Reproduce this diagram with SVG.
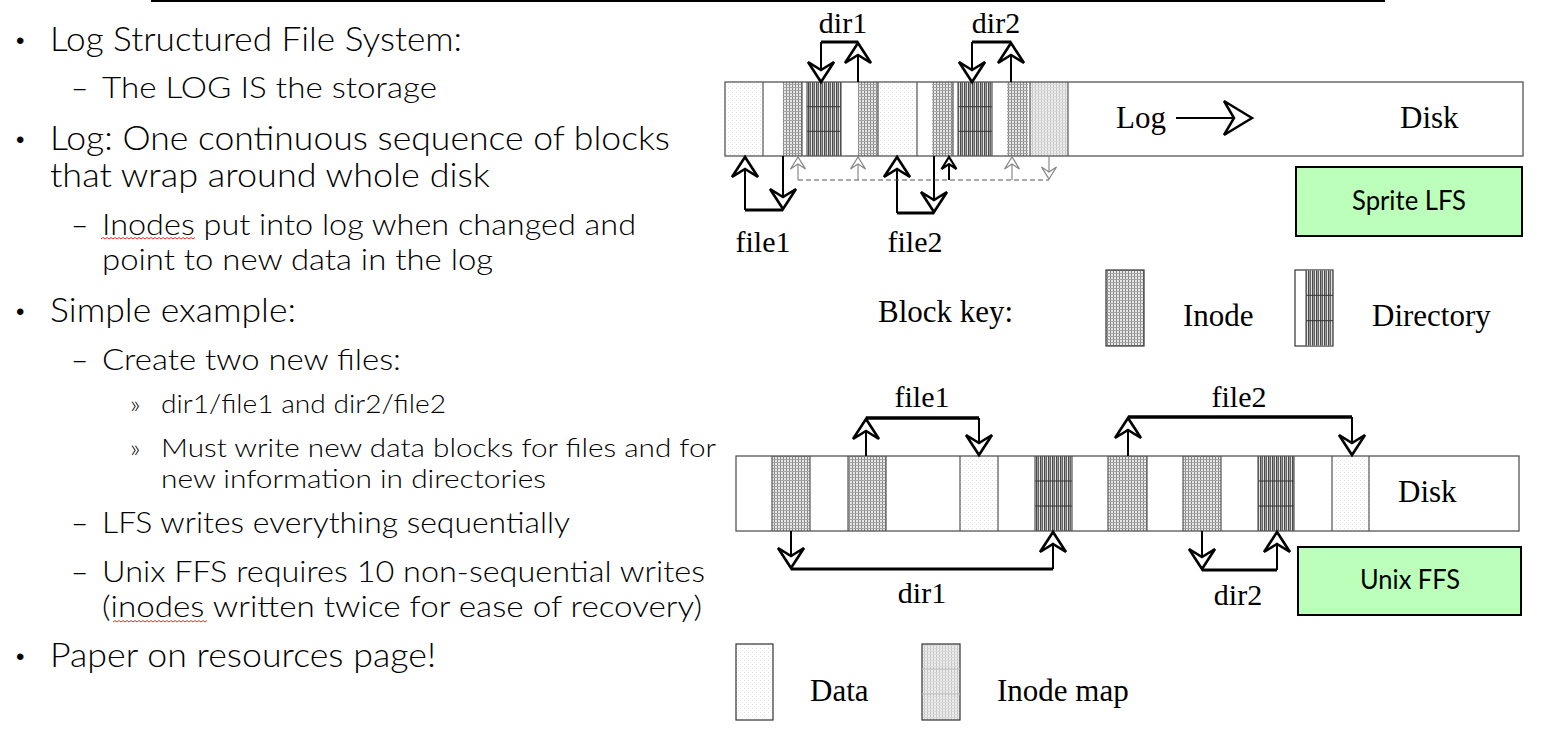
<svg xmlns="http://www.w3.org/2000/svg" width="1541" height="735" viewBox="0 0 1541 735">
<style>
.t1{font-family:Lato,"Liberation Sans",sans-serif;font-size:34px;font-weight:300;fill:#000}
.t2{font-family:Lato,"Liberation Sans",sans-serif;font-size:30px;font-weight:300;fill:#000}
.t3{font-family:Lato,"Liberation Sans",sans-serif;font-size:26px;font-weight:300;fill:#000}
.bu{font-family:"Liberation Sans",sans-serif;font-size:24px;fill:#000}
.lab{font-family:"Liberation Serif","Times New Roman",serif;font-size:31px;fill:#000}
.sl{font-family:"Liberation Serif","Times New Roman",serif;font-size:30px;fill:#000;text-anchor:middle}
.box{font-family:Lato,"Liberation Sans",sans-serif;font-size:27px;fill:#000;text-anchor:middle}
.disk{fill:#fff;stroke:none}
.outline{fill:none;stroke:#555;stroke-width:1.3}
.sep{stroke:#555;stroke-width:1.2}
.dl{stroke:#333;stroke-width:1}
.il{stroke:#bbb;stroke-width:1}
.sh{fill:none;stroke:#000;stroke-width:2}
.hz{fill:none;stroke:#000;stroke-width:3}
.hz4{fill:none;stroke:#000;stroke-width:3.5}
.gr{fill:none;stroke:#888;stroke-width:1.2}
.dash{fill:none;stroke:#555;stroke-width:1.2;stroke-dasharray:5 3}
.green{fill:#bbffbb;stroke:#000;stroke-width:2}
.sq{fill:none;stroke:#e03030;stroke-width:1}
</style>
<defs>
<pattern id="pInode" width="3" height="3" patternUnits="userSpaceOnUse">
<rect width="3" height="3" fill="#e8e8e8"/>
<rect width="1" height="3" fill="#888"/>
<rect width="3" height="1" fill="#a4a4a4"/>
</pattern>
<pattern id="pDir" width="4" height="4" patternUnits="userSpaceOnUse">
<rect width="4" height="4" fill="#9a9a9a"/>
<rect width="1" height="4" fill="#4a4a4a"/>
<rect x="2" width="1" height="4" fill="#666"/>
<rect x="3" width="1" height="4" fill="#e4e4e4"/>
</pattern>
<pattern id="pData" width="4" height="4" patternUnits="userSpaceOnUse">
<rect width="4" height="4" fill="#fff"/>
<rect width="1" height="1" fill="#e2e2e2"/>
<rect x="2" y="2" width="1" height="1" fill="#ececec"/>
</pattern>
<pattern id="pMap" width="3" height="3" patternUnits="userSpaceOnUse">
<rect width="3" height="3" fill="#ececec"/>
<rect width="1" height="3" fill="#c4c4c4"/>
<rect width="3" height="1" fill="#dadada"/>
</pattern>
<marker id="big" viewBox="0 0 28 30" markerWidth="28" markerHeight="30" refX="23" refY="15" orient="auto" markerUnits="userSpaceOnUse" overflow="visible">
<path d="M23,15 L3,2 L11,15 L3,28 Z" fill="#fff" stroke="#000" stroke-width="2.6" stroke-linejoin="miter"/>
</marker>
<marker id="smallg" viewBox="0 0 16 18" markerWidth="16" markerHeight="18" refX="14" refY="9" orient="auto" markerUnits="userSpaceOnUse" overflow="visible">
<path d="M14,9 L2,1.5 L7,9 L2,16.5 Z" fill="#fff" stroke="#888" stroke-width="1.3"/>
</marker>
<marker id="smallb" viewBox="0 0 16 18" markerWidth="16" markerHeight="18" refX="14" refY="9" orient="auto" markerUnits="userSpaceOnUse" overflow="visible">
<path d="M14,9 L2,1.5 L7,9 L2,16.5 Z" fill="#fff" stroke="#000" stroke-width="2.2"/>
</marker>
<marker id="logarrow" viewBox="0 0 34 40" markerWidth="34" markerHeight="40" refX="31" refY="20" orient="auto" markerUnits="userSpaceOnUse" overflow="visible">
<path d="M31,20 L3,3 L13,20 L3,37 Z" fill="#fff" stroke="#000" stroke-width="2.5"/>
</marker>
</defs>

<rect width="1541" height="735" fill="#fff"/>
<line x1="151" y1="1" x2="1385" y2="1" stroke="#000" stroke-width="2"/>

<g id="bullets">
<text class="bu" x="16" y="49">•</text>
<text class="t1" x="50" y="51" textLength="412" lengthAdjust="spacingAndGlyphs">Log Structured File System:</text>
<text class="t2" x="71" y="98">–</text>
<text class="t2" x="102" y="98" textLength="335" lengthAdjust="spacingAndGlyphs">The LOG IS the storage</text>
<text class="bu" x="16" y="148">•</text>
<text class="t1" x="50" y="150" textLength="620" lengthAdjust="spacingAndGlyphs">Log: One continuous sequence of blocks</text>
<text class="t1" x="50" y="187" textLength="440" lengthAdjust="spacingAndGlyphs">that wrap around whole disk</text>
<text class="t2" x="71" y="235">–</text>
<text class="t2" x="102" y="235" textLength="534" lengthAdjust="spacingAndGlyphs">Inodes put into log when changed and</text>
<path class="sq" d="M101,239 l2,-1.5 l2,1.5 l2,-1.5 l2,1.5 l2,-1.5 l2,1.5 l2,-1.5 l2,1.5 l2,-1.5 l2,1.5 l2,-1.5 l2,1.5 l2,-1.5 l2,1.5 l2,-1.5 l2,1.5 l2,-1.5 l2,1.5 l2,-1.5 l2,1.5 l2,-1.5 l2,1.5 l2,-1.5 l2,1.5 l2,-1.5 l2,1.5 l2,-1.5 l2,1.5 l2,-1.5 l2,1.5 l2,-1.5 l2,1.5 l2,-1.5 l2,1.5 l2,-1.5 l2,1.5 l2,-1.5 l2,1.5 l2,-1.5 l2,1.5 l2,-1.5 l2,1.5 l2,-1.5 l2,1.5 l2,-1.5 l2,1.5 l2,-1.5"/>
<text class="t2" x="102" y="270" textLength="391" lengthAdjust="spacingAndGlyphs">point to new data in the log</text>
<text class="bu" x="16" y="320">•</text>
<text class="t1" x="50" y="322" textLength="246" lengthAdjust="spacingAndGlyphs">Simple example:</text>
<text class="t2" x="71" y="370">–</text>
<text class="t2" x="102" y="370" textLength="299" lengthAdjust="spacingAndGlyphs">Create two new files:</text>
<text class="t3" x="130" y="413" font-size="30">»</text>
<text class="t3" x="161" y="413" textLength="285" lengthAdjust="spacingAndGlyphs">dir1/file1 and dir2/file2</text>
<text class="t3" x="130" y="457" font-size="30">»</text>
<text class="t3" x="161" y="457" textLength="555" lengthAdjust="spacingAndGlyphs">Must write new data blocks for files and for</text>
<text class="t3" x="161" y="488" textLength="385" lengthAdjust="spacingAndGlyphs">new information in directories</text>
<text class="t2" x="71" y="533">–</text>
<text class="t2" x="102" y="533" textLength="468" lengthAdjust="spacingAndGlyphs">LFS writes everything sequentially</text>
<text class="t2" x="71" y="582">–</text>
<text class="t2" x="102" y="582" textLength="603" lengthAdjust="spacingAndGlyphs">Unix FFS requires 10 non-sequential writes</text>
<text class="t2" x="102" y="617" textLength="600" lengthAdjust="spacingAndGlyphs">(inodes written twice for ease of recovery)</text>
<path class="sq" d="M113,622 l2,-1.5 l2,1.5 l2,-1.5 l2,1.5 l2,-1.5 l2,1.5 l2,-1.5 l2,1.5 l2,-1.5 l2,1.5 l2,-1.5 l2,1.5 l2,-1.5 l2,1.5 l2,-1.5 l2,1.5 l2,-1.5 l2,1.5 l2,-1.5 l2,1.5 l2,-1.5 l2,1.5 l2,-1.5 l2,1.5 l2,-1.5 l2,1.5 l2,-1.5 l2,1.5 l2,-1.5 l2,1.5 l2,-1.5 l2,1.5 l2,-1.5 l2,1.5 l2,-1.5 l2,1.5 l2,-1.5 l2,1.5 l2,-1.5 l2,1.5 l2,-1.5 l2,1.5 l2,-1.5 l2,1.5 l2,-1.5 l2,1.5 l2,-1.5"/>
<text class="bu" x="16" y="665">•</text>
<text class="t1" x="50" y="667" textLength="386" lengthAdjust="spacingAndGlyphs">Paper on resources page!</text>
</g>

<g id="lfs-disk">
<rect class="disk" x="725" y="82" width="798" height="74"/>
<rect x="726" y="83" width="37" height="73" fill="url(#pData)"/>
<rect x="783" y="82" width="19" height="74" fill="url(#pInode)"/>
<rect x="807" y="82" width="34" height="74" fill="url(#pDir)"/>
<line class="dl" x1="807" y1="106.7" x2="841" y2="106.7"/>
<line class="dl" x1="807" y1="131.3" x2="841" y2="131.3"/>
<rect x="858" y="82" width="20" height="74" fill="url(#pInode)"/>
<rect x="878" y="83" width="39" height="73" fill="url(#pData)"/>
<rect x="932" y="82" width="21" height="74" fill="url(#pInode)"/>
<rect x="958" y="82" width="34" height="74" fill="url(#pDir)"/>
<line class="dl" x1="958" y1="106.7" x2="992" y2="106.7"/>
<line class="dl" x1="958" y1="131.3" x2="992" y2="131.3"/>
<rect x="1007" y="82" width="21" height="74" fill="url(#pInode)"/>
<rect x="1030" y="82" width="38" height="74" fill="url(#pMap)"/>
<g class="sep">
<line x1="763" y1="82" x2="763" y2="156"/>
<line x1="802" y1="82" x2="802" y2="156"/>
<line x1="807" y1="82" x2="807" y2="156"/>
<line x1="841" y1="82" x2="841" y2="156"/>
<line x1="878" y1="82" x2="878" y2="156"/>
<line x1="917" y1="82" x2="917" y2="156"/>
<line x1="953" y1="82" x2="953" y2="156"/>
<line x1="958" y1="82" x2="958" y2="156"/>
<line x1="992" y1="82" x2="992" y2="156"/>
<line x1="1030" y1="82" x2="1030" y2="156"/>
<line x1="1068" y1="82" x2="1068" y2="156"/>
</g>
<rect class="outline" x="725" y="82" width="798" height="74"/>
<text class="lab" x="1116" y="128" font-size="32">Log</text>
<text class="lab" x="1400" y="128" font-size="32">Disk</text>
</g>

<g id="lfs-labels">
<text class="sl" x="843" y="33">dir1</text>
<text class="sl" x="996" y="33">dir2</text>
<text class="sl" x="763" y="252">file1</text>
<text class="sl" x="915" y="252">file2</text>
</g>

<g id="sprite-lfs">
<rect class="green" x="1296" y="167" width="226" height="69"/>
<text class="box" x="1409" y="210" textLength="114" lengthAdjust="spacingAndGlyphs">Sprite LFS</text>
</g>

<g id="block-key">
<text class="lab" x="878" y="322" font-size="32">Block key:</text>
<rect x="1106" y="270" width="38" height="76" fill="url(#pInode)" stroke="#333" stroke-width="1.2"/>
<text class="lab" x="1183" y="326">Inode</text>
<rect x="1295" y="270" width="38" height="76" fill="#fff" stroke="#333" stroke-width="1.2"/>
<rect x="1306" y="270.6" width="26.4" height="74.8" fill="url(#pDir)"/>
<line class="dl" x1="1306" y1="295.3" x2="1333" y2="295.3"/>
<line class="dl" x1="1306" y1="320.7" x2="1333" y2="320.7"/>
<line class="sep" x1="1306" y1="270" x2="1306" y2="346"/>
<text class="lab" x="1372" y="326" font-size="32">Directory</text>
</g>

<g id="ffs-disk">
<rect class="disk" x="736" y="456" width="783" height="75"/>
<rect x="772" y="456" width="38" height="75" fill="url(#pInode)"/>
<rect x="848" y="456" width="38" height="75" fill="url(#pInode)"/>
<rect x="960" y="456" width="38" height="75" fill="url(#pData)"/>
<rect x="1035" y="456" width="37" height="75" fill="url(#pDir)"/>
<line class="dl" x1="1035" y1="481" x2="1072" y2="481"/>
<line class="dl" x1="1035" y1="506" x2="1072" y2="506"/>
<rect x="1108" y="456" width="39" height="75" fill="url(#pInode)"/>
<rect x="1183" y="456" width="38" height="75" fill="url(#pInode)"/>
<rect x="1258" y="456" width="36" height="75" fill="url(#pDir)"/>
<line class="dl" x1="1258" y1="481" x2="1294" y2="481"/>
<line class="dl" x1="1258" y1="506" x2="1294" y2="506"/>
<rect x="1332" y="456" width="37" height="75" fill="url(#pData)"/>
<g class="sep">
<line x1="772" y1="456" x2="772" y2="531"/>
<line x1="810" y1="456" x2="810" y2="531"/>
<line x1="848" y1="456" x2="848" y2="531"/>
<line x1="886" y1="456" x2="886" y2="531"/>
<line x1="960" y1="456" x2="960" y2="531"/>
<line x1="998" y1="456" x2="998" y2="531"/>
<line x1="1035" y1="456" x2="1035" y2="531"/>
<line x1="1072" y1="456" x2="1072" y2="531"/>
<line x1="1108" y1="456" x2="1108" y2="531"/>
<line x1="1147" y1="456" x2="1147" y2="531"/>
<line x1="1183" y1="456" x2="1183" y2="531"/>
<line x1="1221" y1="456" x2="1221" y2="531"/>
<line x1="1258" y1="456" x2="1258" y2="531"/>
<line x1="1294" y1="456" x2="1294" y2="531"/>
<line x1="1332" y1="456" x2="1332" y2="531"/>
<line x1="1369" y1="456" x2="1369" y2="531"/>
</g>
<rect class="outline" x="736" y="456" width="783" height="75"/>
<text class="lab" x="1398" y="502" font-size="32">Disk</text>
</g>

<g id="ffs-labels">
<text class="sl" x="922" y="407">file1</text>
<text class="sl" x="1239" y="407">file2</text>
<text class="sl" x="922" y="603">dir1</text>
<text class="sl" x="1238" y="605">dir2</text>
</g>

<g id="unix-ffs">
<rect class="green" x="1298" y="547" width="223" height="68"/>
<text class="box" x="1410" y="589" textLength="100" lengthAdjust="spacingAndGlyphs">Unix FFS</text>
</g>

<g id="legend">
<rect x="736" y="644" width="37" height="76" fill="url(#pData)" stroke="#333" stroke-width="1.2"/>
<text class="lab" x="810" y="701">Data</text>
<rect x="922" y="644" width="38" height="76" fill="url(#pMap)" stroke="#333" stroke-width="1.2"/>
<line class="il" x1="922" y1="669" x2="960" y2="669"/>
<line class="il" x1="922" y1="694" x2="960" y2="694"/>
<text class="lab" x="997" y="701" font-size="32">Inode map</text>
</g>

<g id="connectors">
<path class="hz" d="M821,42 H858"/>
<path class="sh" d="M821,42 V82" marker-end="url(#big)"/>
<path class="sh" d="M858,82 V43" marker-end="url(#big)"/>
<path class="hz" d="M972,42 H1011"/>
<path class="sh" d="M972,42 V82" marker-end="url(#big)"/>
<path class="sh" d="M1011,82 V43" marker-end="url(#big)"/>
<path class="hz" d="M745,210 H783"/>
<path class="sh" d="M745,210 V157" marker-end="url(#big)"/>
<path class="sh" d="M783,156 V209" marker-end="url(#big)"/>
<path class="hz" d="M897,213 H934"/>
<path class="sh" d="M897,213 V157" marker-end="url(#big)"/>
<path class="sh" d="M934,156 V212" marker-end="url(#big)"/>
<path class="dash" d="M798,180 H1049"/>
<path class="gr" d="M798,180 V157" marker-end="url(#smallg)"/>
<path class="gr" d="M858,180 V157" marker-end="url(#smallg)"/>
<path class="gr" d="M1012,180 V157" marker-end="url(#smallg)"/>
<path class="gr" d="M1049,156 V179" marker-end="url(#smallg)"/>
<path class="sh" d="M949,180 V157" stroke-width="2.5" marker-end="url(#smallb)"/>
<path class="sh" d="M1176,118 H1252" marker-end="url(#logarrow)"/>
<path class="hz4" d="M866,418 H979"/>
<path class="sh" d="M866,456 V419" marker-end="url(#big)"/>
<path class="sh" d="M979,418 V455" marker-end="url(#big)"/>
<path class="hz4" d="M1128,417 H1352"/>
<path class="sh" d="M1128,456 V418" marker-end="url(#big)"/>
<path class="sh" d="M1352,417 V455" marker-end="url(#big)"/>
<path class="hz" d="M791,569 H1053"/>
<path class="sh" d="M791,531 V568" marker-end="url(#big)"/>
<path class="sh" d="M1053,569 V532" marker-end="url(#big)"/>
<path class="hz" d="M1202,570 H1277"/>
<path class="sh" d="M1202,531 V569" marker-end="url(#big)"/>
<path class="sh" d="M1277,570 V532" marker-end="url(#big)"/>
</g>
</svg>
